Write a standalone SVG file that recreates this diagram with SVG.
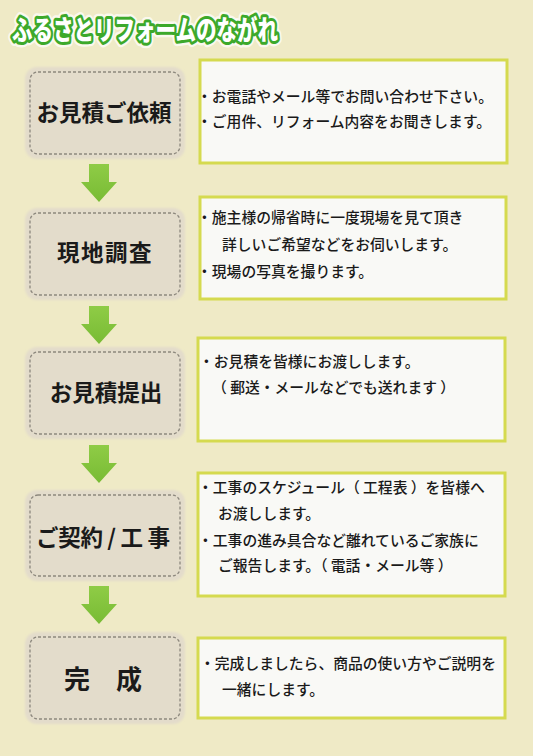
<svg xmlns="http://www.w3.org/2000/svg" width="533" height="756" viewBox="0 0 533 756">
<style>
.bg{fill:#efeac6}
.step{fill:#e3dccb}
.dash{fill:none;stroke:#8d887e;stroke-width:1.3;stroke-dasharray:3 2}
.lbl{font-family:"Noto Sans CJK JP","Noto Sans",sans-serif;font-weight:bold;font-size:22.5px;fill:#1a1a1a;text-anchor:middle}
.card{fill:#f9f9f6;stroke:#d5da4f;stroke-width:3}
.txt{font-family:"Noto Sans CJK JP","Noto Sans",sans-serif;font-weight:500;font-size:14.8px;fill:#1a1a1a}
.arrow{fill:url(#ag)}
.title{font-family:"Noto Sans CJK JP","Noto Sans",sans-serif;font-weight:900;font-size:27px}
</style>
<defs>
<linearGradient id="ag" x1="0" y1="0" x2="0" y2="1">
<stop offset="0" stop-color="#8fcc46"/>
<stop offset="1" stop-color="#78bb34"/>
</linearGradient>
<filter id="soft" x="-10%" y="-10%" width="120%" height="120%">
<feGaussianBlur stdDeviation="1.2"/>
</filter>
</defs>
<rect class="bg" x="0" y="0" width="533" height="756"/>
<g id="title">
<text class="title" x="12" y="40" textLength="266" lengthAdjust="spacingAndGlyphs" fill="none" stroke="#ffffff" stroke-opacity="0.7" stroke-width="11" stroke-linejoin="round">ふるさとリフォームのながれ</text>
<text class="title" x="12" y="40" textLength="266" lengthAdjust="spacingAndGlyphs" fill="none" stroke="#3ca92b" stroke-width="6" stroke-linejoin="round">ふるさとリフォームのながれ</text>
<text class="title" x="12" y="40" textLength="266" lengthAdjust="spacingAndGlyphs" fill="#ffffff">ふるさとリフォームのながれ</text>
</g>
<g id="connectors">
<path class="arrow" d="M89 164 H109 V182 H117 L99 202 L81 182 H89 Z"/>
<path class="arrow" d="M89 306 H109 V324 H117 L99 344 L81 324 H89 Z"/>
<path class="arrow" d="M89 445 H109 V463 H117 L99 483 L81 463 H89 Z"/>
<path class="arrow" d="M89 586 H109 V604 H117 L99 624 L81 604 H89 Z"/>
</g>
<g id="step1">
<rect class="step" x="25" y="67" width="160" height="92" rx="12" filter="url(#soft)"/>
<rect class="dash" x="30" y="72" width="150" height="82" rx="8"/>
<text class="lbl" x="104" y="121">お見積ご依頼</text>
</g>
<g id="desc1">
<rect class="card" x="200" y="60" width="307" height="103"/>
<text class="txt" x="197" y="102">・お電話やメール等でお問い合わせ下さい。</text>
<text class="txt" x="197" y="127">・ご用件、リフォーム内容をお聞きします。</text>
</g>
<g id="step2">
<rect class="step" x="25" y="208" width="160" height="92" rx="12" filter="url(#soft)"/>
<rect class="dash" x="30" y="213" width="150" height="82" rx="8"/>
<text class="lbl" x="105" y="261" letter-spacing="1.5">現地調査</text>
</g>
<g id="desc2">
<rect class="card" x="200" y="197" width="306" height="102"/>
<text class="txt" x="197" y="223">・施主様の帰省時に一度現場を見て頂き</text>
<text class="txt" x="222" y="250">詳しいご希望などをお伺いします。</text>
<text class="txt" x="197" y="277">・現場の写真を撮ります。</text>
</g>
<g id="step3">
<rect class="step" x="25" y="347" width="160" height="92" rx="12" filter="url(#soft)"/>
<rect class="dash" x="30" y="352" width="150" height="82" rx="8"/>
<text class="lbl" x="106" y="401">お見積提出</text>
</g>
<g id="desc3">
<rect class="card" x="198" y="338" width="307" height="103"/>
<text class="txt" x="199" y="367">・お見積を皆様にお渡しします。</text>
<text class="txt" x="212" y="393">（ 郵送・メールなどでも送れます ）</text>
</g>
<g id="step4">
<rect class="step" x="25" y="490" width="160" height="91" rx="12" filter="url(#soft)"/>
<rect class="dash" x="30" y="495" width="150" height="81" rx="8"/>
<text class="lbl" x="103" y="546" textLength="134" lengthAdjust="spacing">ご契約 / 工 事</text>
</g>
<g id="desc4">
<rect class="card" x="198" y="473" width="307" height="123"/>
<text class="txt" x="198" y="493">・工事のスケジュール（ 工程表 ）を皆様へ</text>
<text class="txt" x="218" y="519">お渡しします。</text>
<text class="txt" x="198" y="546">・工事の進み具合など離れているご家族に</text>
<text class="txt" x="218" y="571">ご報告します。（ 電話・メール等 ）</text>
</g>
<g id="step5">
<rect class="step" x="25" y="632" width="160" height="92" rx="12" filter="url(#soft)"/>
<rect class="dash" x="30" y="637" width="150" height="82" rx="8"/>
<text class="lbl" x="103" y="689" style="font-size:26px">完　成</text>
</g>
<g id="desc5">
<rect class="card" x="198" y="638" width="307" height="80"/>
<text class="txt" x="200" y="669">・完成しましたら、商品の使い方やご説明を</text>
<text class="txt" x="222" y="695">一緒にします。</text>
</g>
</svg>
